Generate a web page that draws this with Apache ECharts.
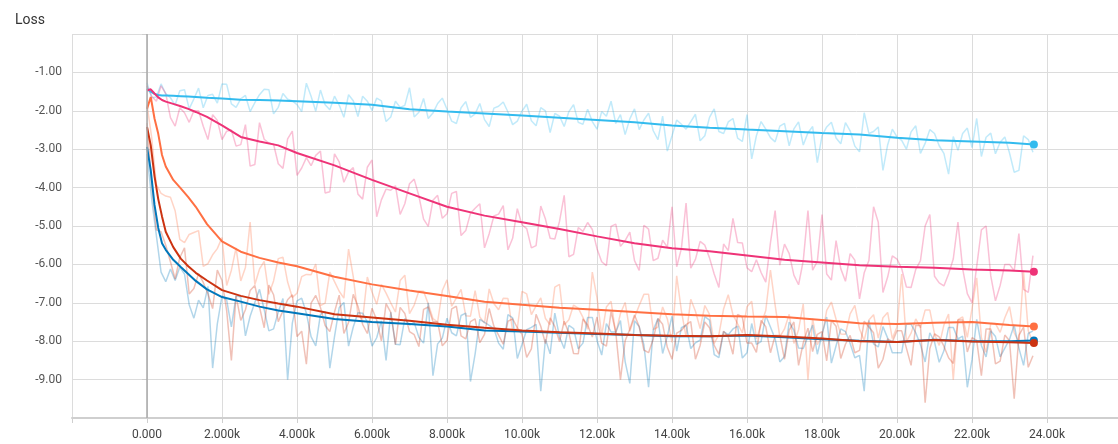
<!DOCTYPE html>
<html><head><meta charset="utf-8">
<script src="https://cdn.jsdelivr.net/npm/echarts@6/dist/echarts.min.js"></script>
<style>html,body{margin:0;padding:0;background:#fff}#c{width:1118px;height:444px}</style>
</head><body><div id="c"></div>
<script>
const chartTitle = 'Loss';
const yTickValues = [-1, -2, -3, -4, -5, -6, -7, -8, -9];
const xTickInterval = 2000;

// smoothed curves (step -> value)
const smoothSteps = [0,100,200,300,400,500,700,900,1100,1300,1600,2000,2500,3000,3500,4000,5000,6000,7000,8000,9000,10000,11000,12000,13000,14000,15000,16000,17000,18000,19000,20000,21000,22000,23000,23650];
const cyanSmooth   = [-1.43,-1.50,-1.56,-1.59,-1.60,-1.60,-1.61,-1.62,-1.63,-1.64,-1.66,-1.68,-1.71,-1.72,-1.73,-1.75,-1.79,-1.84,-1.96,-2.02,-2.07,-2.12,-2.18,-2.24,-2.30,-2.38,-2.44,-2.49,-2.53,-2.58,-2.62,-2.70,-2.77,-2.80,-2.83,-2.88];
const pinkSmooth   = [-1.47,-1.44,-1.55,-1.65,-1.72,-1.76,-1.82,-1.88,-1.95,-2.03,-2.16,-2.38,-2.68,-2.80,-2.90,-3.10,-3.42,-3.80,-4.15,-4.50,-4.73,-4.90,-5.08,-5.27,-5.45,-5.58,-5.66,-5.77,-5.88,-5.95,-6.02,-6.06,-6.09,-6.13,-6.16,-6.19];
const orangeSmooth = [-1.95,-1.64,-2.20,-2.60,-3.15,-3.45,-3.80,-4.02,-4.25,-4.50,-4.95,-5.40,-5.67,-5.83,-5.95,-6.05,-6.32,-6.52,-6.68,-6.82,-6.97,-7.05,-7.13,-7.18,-7.24,-7.30,-7.34,-7.36,-7.37,-7.45,-7.53,-7.55,-7.52,-7.50,-7.58,-7.62];
const redSmooth    = [-2.42,-2.90,-3.70,-4.30,-4.75,-5.15,-5.55,-5.85,-6.05,-6.22,-6.42,-6.67,-6.82,-6.93,-7.02,-7.10,-7.30,-7.38,-7.47,-7.57,-7.65,-7.72,-7.77,-7.80,-7.84,-7.86,-7.87,-7.84,-7.88,-7.93,-8.00,-8.02,-7.97,-8.01,-8.03,-8.05];
const blueSmooth   = [-2.94,-3.55,-4.45,-5.05,-5.45,-5.62,-5.88,-6.07,-6.25,-6.43,-6.65,-6.85,-6.97,-7.10,-7.20,-7.27,-7.42,-7.50,-7.55,-7.62,-7.72,-7.75,-7.78,-7.81,-7.84,-7.87,-7.87,-7.85,-7.90,-7.95,-7.99,-8.02,-7.96,-8.00,-8.00,-7.98];

// raw values: "Raw" at steps 0,250,500,... and "RawMid" at steps 125,375,625,...
const rawStepSize = 250;
const cyanRaw = [-1.27,-1.64,-1.56,-1.85,-1.45,-1.69,-1.92,-1.57,-1.30,-1.82,
-1.69,-2.02,-1.58,-1.45,-1.91,-1.70,-1.84,-1.28,-2.01,-1.84,
-1.62,-2.17,-1.74,-1.62,-1.99,-1.74,-2.16,-1.91,-1.40,-2.04,
-2.20,-1.81,-1.96,-2.33,-1.76,-2.08,-2.23,-1.93,-1.77,-2.36,
-2.01,-2.26,-1.92,-2.57,-2.14,-2.02,-2.30,-1.96,-2.48,-2.14,
-2.33,-2.62,-1.95,-2.24,-2.52,-2.14,-2.65,-2.35,-2.28,-2.78,
-2.17,-2.54,-2.29,-2.71,-2.10,-2.65,-2.48,-2.81,-2.33,-2.47,
-2.89,-2.41,-2.65,-2.30,-2.86,-2.52,-3.07,-2.59,-2.42,-2.89,
-2.68,-3.00,-2.39,-2.85,-2.59,-3.11,-2.67,-2.59,-2.96,-3.19,
-2.58,-2.82,-3.10,-3.55,-2.75];
const cyanRawMid = [-1.66,-1.30,-1.66,-1.48,-1.95,-1.41,-1.60,-1.80,-1.31,-1.91,
-1.60,-1.79,-1.44,-2.08,-1.55,-1.74,-2.02,-1.62,-1.46,-1.97,
-1.85,-1.58,-2.15,-1.75,-1.67,-2.28,-1.75,-1.86,-2.16,-1.68,
-2.06,-1.67,-2.27,-1.92,-2.17,-1.81,-2.41,-1.88,-2.03,-2.27,
-1.83,-2.39,-2.00,-2.07,-2.41,-1.84,-2.35,-2.28,-2.02,-1.75,
-2.10,-2.21,-2.49,-2.06,-2.75,-3.05,-2.24,-2.48,-2.09,-2.65,
-1.95,-2.59,-2.20,-2.80,-3.25,-2.28,-2.70,-2.40,-2.91,-2.29,
-2.57,-3.35,-2.42,-2.71,-2.31,-2.92,-2.05,-2.54,-3.55,-2.48,
-2.77,-2.55,-3.11,-2.49,-2.91,-3.65,-3.03,-2.45,-2.20,-2.69,
-3.12,-2.68,-3.60,-2.65,-3.08];
const pinkRaw = [-1.35,-1.75,-1.55,-2.40,-2.05,-2.00,-2.40,-2.10,-2.75,-2.50,
-2.88,-3.44,-2.31,-2.84,-3.38,-2.73,-3.68,-3.22,-3.16,-4.14,
-3.12,-3.86,-3.48,-4.30,-3.28,-4.32,-4.07,-4.70,-3.90,-4.22,
-5.01,-4.20,-4.68,-4.10,-5.12,-4.54,-5.57,-4.74,-4.47,-5.32,
-4.97,-5.57,-4.48,-5.32,-4.88,-5.80,-5.04,-4.91,-5.59,-6.03,
-4.95,-5.38,-5.90,-4.98,-5.90,-5.37,-4.50,-5.59,-6.10,-5.40,
-5.83,-6.60,-5.64,-5.43,-6.09,-5.88,-6.46,-4.60,-5.47,-6.28,
-5.90,-6.15,-4.70,-6.41,-6.11,-5.72,-6.90,-5.90,-4.90,-6.33,
-5.86,-6.59,-6.13,-5.00,-6.31,-6.56,-5.86,-6.11,-7.00,-5.10,
-6.30,-6.55,-6.00,-5.20,-6.73];
const pinkRawMid = [-1.62,-1.35,-2.18,-1.92,-2.30,-2.00,-2.75,-2.25,-2.53,-2.92,
-2.36,-3.40,-2.74,-2.87,-3.50,-2.53,-3.49,-3.43,-3.05,-4.11,
-3.33,-3.59,-4.17,-3.47,-4.76,-4.04,-3.95,-4.42,-3.78,-4.82,
-4.33,-4.80,-4.15,-5.25,-4.67,-4.42,-5.20,-4.69,-5.62,-4.55,
-5.07,-5.51,-4.82,-5.34,-4.20,-5.74,-5.14,-5.09,-5.93,-5.01,
-5.53,-5.16,-6.16,-5.08,-5.84,-5.55,-6.06,-4.40,-5.87,-5.50,
-6.25,-5.47,-4.80,-5.44,-6.19,-6.21,-5.44,-6.02,-5.72,-6.53,
-4.60,-5.92,-6.25,-5.38,-6.44,-5.89,-6.22,-4.50,-6.73,-5.78,
-6.11,-6.60,-5.90,-4.70,-6.48,-6.25,-4.90,-6.76,-6.05,-5.00,
-6.95,-6.00,-6.17,-6.65,-5.77];
const orangeRaw = [-1.84,-3.92,-4.22,-4.60,-5.43,-5.17,-6.05,-5.75,-5.30,-6.15,
-6.43,-4.90,-6.12,-6.78,-5.85,-6.46,-6.75,-6.26,-5.99,-7.01,
-6.45,-6.88,-6.32,-7.43,-6.72,-6.52,-7.00,-6.42,-7.28,-6.69,
-7.03,-7.50,-6.40,-6.87,-7.34,-6.68,-7.53,-7.02,-6.88,-7.73,
-6.70,-7.31,-6.87,-7.57,-6.52,-7.44,-7.14,-7.69,-6.87,-7.11,
-7.80,-6.99,-7.38,-6.78,-7.70,-7.11,-8.03,-7.21,-6.91,-7.67,
-7.30,-7.83,-6.79,-7.55,-7.10,-7.94,-7.20,-7.06,-7.68,-8.06,
-7.03,-7.41,-7.88,-6.98,-7.81,-7.29,-7.68,-7.45,-7.92,-7.25,
-7.63,-8.01,-7.42,-7.19,-7.81,-7.58,-9.00,-7.37,-7.15,-7.91,
-7.54,-7.77,-7.10,-8.02,-7.73];
const orangeRawMid = [-2.70,-4.15,-4.25,-5.35,-5.22,-5.12,-5.98,-5.59,-6.55,-5.57,
-6.08,-6.53,-5.92,-6.43,-5.81,-6.86,-6.32,-6.27,-7.07,-6.20,
-6.70,-5.60,-7.32,-6.33,-7.04,-6.75,-7.24,-6.28,-7.06,-6.70,
-7.41,-6.68,-7.09,-6.65,-7.35,-7.37,-6.64,-7.18,-6.89,-7.67,
-6.77,-7.08,-7.41,-6.59,-7.58,-7.06,-7.38,-6.20,-7.85,-6.96,
-7.28,-7.74,-7.07,-6.78,-7.63,-7.42,-6.30,-7.89,-7.22,-7.07,
-8.06,-7.16,-7.31,-7.78,-6.96,-7.57,-6.15,-7.89,-7.30,-7.70,
-9.00,-8.09,-7.20,-7.43,-7.82,-7.07,-7.98,-7.31,-7.39,-7.93,
-6.25,-7.79,-7.65,-7.19,-8.11,-7.29,-7.44,-7.90,-6.35,-8.29,
-7.54,-7.39,-7.78,-6.20,-8.03];
const redRaw = [-2.32,-5.10,-5.50,-6.38,-5.57,-6.63,-6.47,-7.15,-6.42,-8.50,
-7.46,-6.68,-7.11,-6.54,-7.49,-6.92,-7.88,-8.60,-6.81,-7.59,
-7.24,-7.80,-6.78,-7.56,-7.14,-7.99,-7.25,-7.12,-7.75,-8.14,
-7.11,-7.50,-7.98,-7.09,-7.94,-7.42,-7.82,-7.61,-8.08,-7.42,
-7.82,-8.20,-7.61,-7.39,-8.01,-7.79,-8.33,-7.58,-7.37,-8.13,
-7.76,-7.99,-7.32,-8.23,-7.94,-7.56,-8.47,-7.72,-7.49,-8.11,
-7.65,-8.34,-7.89,-7.30,-8.05,-8.29,-7.62,-7.85,-8.47,-7.50,
-8.04,-8.27,-7.75,-7.46,-8.45,-7.85,-8.24,-7.63,-8.70,-7.94,
-7.73,-8.18,-7.59,-9.60,-7.81,-8.13,-8.58,-7.45,-7.91,-8.90,
-7.68,-8.52,-7.99,-7.85,-8.68];
const redRawMid = [-3.92,-5.15,-5.93,-5.82,-6.77,-6.24,-6.77,-6.15,-7.21,-6.82,
-7.18,-6.55,-7.65,-6.79,-7.21,-6.79,-7.74,-7.01,-7.12,-7.75,
-6.80,-7.51,-7.09,-7.80,-7.45,-7.02,-8.09,-7.28,-7.83,-7.17,
-7.49,-8.12,-7.16,-7.86,-7.49,-8.04,-7.15,-7.84,-7.48,-7.65,
-8.42,-7.30,-8.06,-7.62,-7.48,-8.32,-7.42,-7.89,-8.05,-7.23,
-9.00,-7.69,-7.62,-8.30,-7.41,-8.16,-7.79,-7.57,-8.47,-7.50,
-8.11,-7.74,-8.34,-7.37,-8.05,-7.46,-8.30,-7.85,-7.71,-8.63,
-7.66,-7.82,-8.51,-7.61,-8.08,-8.30,-7.48,-7.78,-8.47,-8.02,
-7.73,-8.63,-7.59,-8.19,-7.89,-8.43,-7.45,-8.28,-7.98,-7.68,
-8.59,-7.84,-9.50,-7.63,-8.38];
const blueRaw = [-3.12,-5.25,-6.45,-6.42,-6.25,-7.40,-7.13,-8.70,-6.82,-7.63,
-6.85,-7.35,-6.65,-7.73,-7.24,-9.00,-6.95,-7.27,-8.12,-7.23,
-7.88,-6.99,-7.63,-7.27,-8.13,-7.47,-7.25,-8.09,-7.58,-7.90,
-7.00,-8.07,-7.40,-7.86,-7.27,-8.33,-7.51,-7.67,-8.21,-7.39,
-8.08,-7.64,-9.30,-8.33,-7.89,-7.59,-8.20,-7.38,-7.98,-7.54,
-7.76,-8.53,-7.47,-8.09,-7.71,-8.32,-7.35,-7.65,-8.19,-7.97,
-7.45,-8.43,-7.83,-7.61,-8.30,-8.08,-7.33,-7.94,-8.40,-7.72,
-8.19,-7.58,-7.82,-8.57,-7.68,-8.06,-8.37,-7.46,-8.15,-7.92,
-8.30,-7.56,-7.78,-8.54,-8.02,-8.25,-7.64,-7.87,-8.48,-8.11,
-7.73,-8.41,-7.95,-8.18,-7.80];
const blueRawMid = [-4.30,-6.20,-6.12,-6.07,-7.05,-6.93,-6.57,-7.55,-6.93,-6.82,
-7.86,-6.99,-7.18,-7.68,-6.89,-7.53,-6.88,-7.88,-7.30,-8.70,
-7.13,-8.13,-7.26,-7.50,-7.91,-8.50,-8.08,-7.41,-7.51,-8.05,
-8.90,-7.92,-7.78,-7.33,-9.05,-7.43,-7.59,-8.05,-7.31,-8.45,
-7.70,-7.56,-7.95,-7.27,-8.19,-7.67,-8.05,-7.38,-8.36,-7.76,
-7.46,-9.10,-7.62,-9.20,-7.41,-7.87,-8.26,-7.58,-8.04,-7.36,
-8.35,-7.75,-7.68,-8.44,-7.54,-8.01,-7.63,-8.54,-7.50,-8.18,
-7.88,-8.34,-7.37,-8.12,-7.75,-8.43,-9.30,-8.07,-7.62,-8.30,
-8.30,-7.56,-8.09,-7.78,-8.55,-7.64,-7.94,-9.20,-7.43,-8.41,
-7.88,-8.18,-7.58,-8.63,-7.73];

const runs = [
  {name: 'run_cyan',   color: '#33bbee', raw: cyanRaw,   mid: cyanRawMid,   smooth: cyanSmooth},
  {name: 'run_pink',   color: '#ee3377', raw: pinkRaw,   mid: pinkRawMid,   smooth: pinkSmooth},
  {name: 'run_orange', color: '#ff7043', raw: orangeRaw, mid: orangeRawMid, smooth: orangeSmooth},
  {name: 'run_blue',   color: '#0077bb', raw: blueRaw,   mid: blueRawMid,   smooth: blueSmooth},
  {name: 'run_red',    color: '#cc3311', raw: redRaw,    mid: redRawMid,    smooth: redSmooth}
];

function rawPoints(a, b) {
  const out = [];
  for (let i = 0; i < a.length; i++) {
    out.push([i * rawStepSize, a[i]]);
    if (i < b.length) out.push([i * rawStepSize + rawStepSize / 2, b[i]]);
  }
  return out;
}

const series = [];
runs.forEach((r, k) => {
  series.push({
    name: r.name + '_raw', type: 'line', showSymbol: false, silent: true,
    data: rawPoints(r.raw, r.mid),
    lineStyle: {color: r.color, width: 1.5, opacity: 0.3},
    itemStyle: {color: r.color}, z: 1,
    markLine: k === 0 ? {
      silent: true, symbol: 'none', label: {show: false},
      lineStyle: {color: '#a8a8a8', width: 1.5, type: 'solid'},
      data: [{xAxis: 0}]
    } : undefined
  });
});
runs.forEach(r => {
  const last = r.smooth.length - 1;
  series.push({
    name: r.name, type: 'line', silent: true,
    data: r.smooth.map((v, i) => [smoothSteps[i], v]),
    showSymbol: true, showAllSymbol: true, symbol: 'circle',
    symbolSize: (val, p) => p.dataIndex === last ? 8 : 0,
    lineStyle: {color: r.color, width: 2},
    itemStyle: {color: r.color}, z: 3
  });
});

const chart = echarts.init(document.getElementById('c'), null, {renderer: 'canvas'});
chart.setOption({
  animation: false,
  backgroundColor: '#fff',
  textStyle: {fontFamily: 'Roboto'},
  title: {text: chartTitle, left: 10, top: 8,
    textStyle: {fontSize: 14, fontWeight: 'normal', color: '#333', fontFamily: 'Roboto'}},
  grid: {left: 72, right: 0, top: 34, bottom: 26, containLabel: false, outerBoundsMode: 'none'},
  xAxis: {
    type: 'value', min: -2000, max: 25893, interval: xTickInterval,
    axisLine: {show: true, onZero: false, lineStyle: {color: '#cfcfcf', width: 2}},
    axisTick: {show: true, length: 5, lineStyle: {color: '#cfcfcf'}},
    splitLine: {show: true, lineStyle: {color: '#dcdcdc', width: 1}},
    axisLabel: {
      margin: 11, fontSize: 12, color: '#444', fontFamily: 'Roboto',
      formatter: v => {
        if (v < 0 || v > 24000) return '';
        if (v === 0) return '0.000';
        const k = v / 1000;
        return (k < 10 ? k.toFixed(3) : k.toFixed(2)) + 'k';
      }
    }
  },
  yAxis: {
    type: 'value', min: -10, max: 0, interval: 1,
    axisLine: {show: false},
    axisTick: {show: true, length: 5, lineStyle: {color: '#cfcfcf'}},
    splitLine: {show: true, lineStyle: {color: '#dcdcdc', width: 1}},
    axisLabel: {
      margin: 10, fontSize: 12, color: '#555', fontFamily: 'Roboto',
      formatter: v => yTickValues.indexOf(v) >= 0 ? v.toFixed(2) : ''
    }
  },
  series: series
});
</script></body></html>
